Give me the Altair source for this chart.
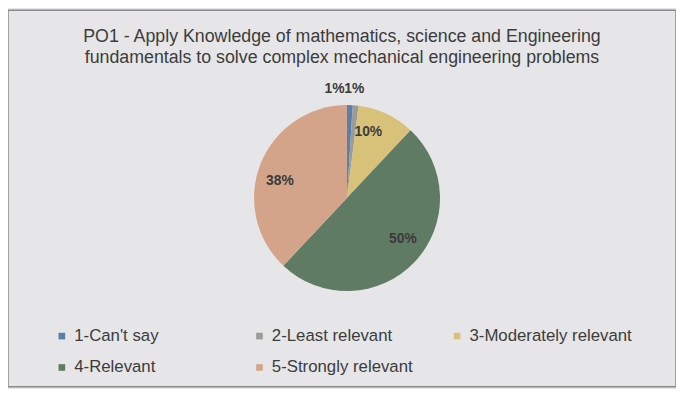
import altair as alt
import pandas as pd

categories = ["1-Can't say", "2-Least relevant", "3-Moderately relevant", "4-Relevant", "5-Strongly relevant"]
values = [1, 1, 10, 50, 38]
colors = ["#5b7fa6", "#9a9c98", "#d8c27a", "#5f7b64", "#d3a489"]
title_lines = ["PO1 - Apply Knowledge of mathematics, science and Engineering",
               "fundamentals to solve complex mechanical engineering problems"]

df = pd.DataFrame({"cat": categories, "val": values, "order": list(range(len(values)))})
df["label"] = df["val"].astype(str) + "%"

W, H = 676, 381
cx, cy = 343, 190

base = alt.Chart(df).encode(
    theta=alt.Theta("val:Q", stack=True),
    order=alt.Order("order:Q"),
)

pie = base.mark_arc(radius=94, stroke=None).encode(
    x=alt.value(cx), y=alt.value(cy),
    color=alt.Color("cat:N", sort=categories,
                    scale=alt.Scale(domain=categories, range=colors),
                    legend=alt.Legend(
                        title=None, orient="none", legendX=46, legendY=321,
                        direction="horizontal", columns=3, gridAlign="all",
                        columnPadding=14, rowPadding=14,
                        symbolType="square", symbolSize=45, symbolStrokeWidth=0,
                        labelFont="Liberation Sans", labelFontSize=17,
                        labelColor="#3c3c3c", labelOffset=4, labelLimit=300,
                    )),
)

txt = dict(font="Liberation Sans", fontSize=14, fontWeight="bold", color="#3a3a3a")

big = base.transform_filter("datum.val >= 5").mark_text(radius=70, **txt).encode(
    x=alt.value(cx), y=alt.value(cy), text="label:N")

small1 = base.transform_filter(alt.datum.cat == categories[0]).mark_text(
    radius=110, align="center", dx=-16, **txt
).encode(x=alt.value(cx), y=alt.value(cy), text="label:N")

small2 = base.transform_filter(alt.datum.cat == categories[1]).mark_text(
    radius=110, align="center", dx=4, **txt
).encode(x=alt.value(cx), y=alt.value(cy), text="label:N")

chart = alt.layer(pie, big, small1, small2).properties(
    width=W, height=H,
    title=alt.TitleParams(text=title_lines, anchor="middle", offset=-57,
                          font="Liberation Sans", fontSize=18, fontWeight="normal",
                          color="#3c3c3c", lineHeight=21, orient="top"),
    autosize=alt.AutoSizeParams(type="fit", contains="padding"),
    padding=0,
).configure(background="#e6e6e8").configure_view(stroke="#8a8a8a", strokeWidth=1.5, fill="#e6e6e8")

chart.save("out.html", embed_options={"renderer": "svg", "actions": False})
